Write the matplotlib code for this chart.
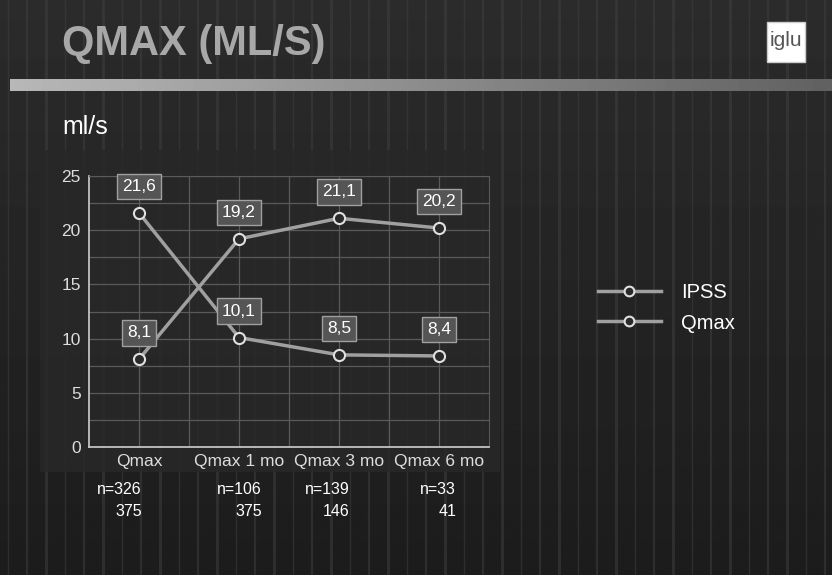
import numpy as np
import matplotlib
matplotlib.use("Agg")
import matplotlib.pyplot as plt
from matplotlib.lines import Line2D
from matplotlib.patches import Rectangle

categories = ["Qmax", "Qmax 1 mo", "Qmax 3 mo", "Qmax 6 mo"]
ipss = [21.6, 10.1, 8.5, 8.4]
qmax = [8.1, 19.2, 21.1, 20.2]
series_names = ["IPSS", "Qmax"]
n_top = ["n=326", "n=106", "n=139", "n=33"]
n_bottom = ["375", "375", "146", "41"]
yticks = [0, 5, 10, 15, 20, 25]

plt.rcParams['font.family'] = ['Liberation Sans', 'DejaVu Sans']

fig = plt.figure(figsize=(8.32, 5.75), dpi=100)
fig.patch.set_facecolor('#1c1c1c')

# background decoration
bg = fig.add_axes([0, 0, 1, 1], zorder=-10)
bg.set_xlim(0, 832); bg.set_ylim(575, 0); bg.axis('off')
grad = np.linspace(0.17, 0.11, 256).reshape(-1, 1)
bg.imshow(np.tile(grad, (1, 2)), extent=[0, 832, 575, 0], cmap='gray', vmin=0, vmax=1,
          aspect='auto', zorder=0)
for i, x in enumerate(np.arange(8, 832, 19)):
    bg.plot([x, x], [0, 575], color='#404040', lw=1.0 + (i % 3) * 0.6, alpha=0.5, zorder=1)
# chart panel
bg.add_patch(Rectangle((40, 150), 460, 322, facecolor='#282828', edgecolor='none',
                       alpha=0.85, zorder=2))
# horizontal light bar
hb = np.linspace(0.72, 0.38, 256).reshape(1, -1)
bg.imshow(hb, extent=[10, 832, 91, 79], cmap='gray', vmin=0, vmax=1, aspect='auto', zorder=3)
bg.set_xlim(0, 832); bg.set_ylim(575, 0)
# logo
bg.add_patch(Rectangle((767, 22), 38, 40, facecolor='white', edgecolor='#cccccc', zorder=4))
bg.text(786, 40, "iglu", ha='center', va='center', fontsize=15, color='#555555', zorder=5)

fig.text(62 / 832, 1 - 44 / 575, "QMAX (ML/S)", fontsize=30, fontweight='bold',
         color='#a8a8a8', va='center', ha='left')
fig.text(62 / 832, 1 - 127 / 575, "ml/s", fontsize=18, color='white', va='center', ha='left')

ax = fig.add_axes([89 / 832, 1 - 447 / 575, 400 / 832, 271 / 575])
ax.set_facecolor('none')
x = np.arange(len(categories))
ax.set_xlim(-0.5, len(categories) - 0.5)
ax.set_ylim(0, 25)
ax.set_yticks(yticks)
ax.set_yticks(np.arange(0, 25.1, 2.5), minor=True)
ax.set_xticks(x)
ax.set_xticklabels(categories)
ax.set_xticks(np.arange(0.5, len(categories) - 0.5, 1), minor=True)
ax.grid(True, which='both', color='#5a5a5a', lw=0.9)
ax.tick_params(which='both', length=0, colors='#dddddd', labelsize=12.5)
ax.tick_params(axis='x', pad=5)
ax.tick_params(axis='y', pad=6)
for s in ['top', 'right']:
    ax.spines[s].set_color('#5a5a5a')
for s in ['left', 'bottom']:
    ax.spines[s].set_color('#cfcfcf')
    ax.spines[s].set_linewidth(1.2)

for vals in (ipss, qmax):
    ax.plot(x, vals, color='#a0a0a0', lw=2.5, marker='o', ms=8,
            mfc='#2a2a2a', mec='#e0e0e0', mew=1.5, zorder=3)
    for xi, v in zip(x, vals):
        ax.annotate(f"{v:.1f}".replace('.', ','), (xi, v), xytext=(0, 19),
                    textcoords='offset points', ha='center', va='center',
                    fontsize=12.5, color='white', zorder=5,
                    bbox=dict(boxstyle='square,pad=0.3', fc='#555555', ec='#a0a0a0', lw=1))

handles = [Line2D([0], [0], color='#a0a0a0', lw=2.5, marker='o', ms=7,
                  mfc='#2a2a2a', mec='#e0e0e0', mew=1.5) for _ in series_names]
fig.legend(handles, series_names, loc='center left', bbox_to_anchor=(580 / 832, 1 - 308 / 575),
           frameon=False, fontsize=14.5, labelcolor='white', handlelength=3.1,
           labelspacing=0.55, handletextpad=1.0)

# right edges of the n= annotations (pixels, layout only)
n_right_px = [142, 262, 350, 456]
for xp, t, b in zip(n_right_px, n_top, n_bottom):
    fig.text(xp / 832, 1 - 490 / 575, t, ha='right', va='center', fontsize=11.5, color='white')
    fig.text(xp / 832, 1 - 511 / 575, b, ha='right', va='center', fontsize=11.5, color='white')

fig.savefig("out.png", dpi=100, facecolor=fig.get_facecolor())
